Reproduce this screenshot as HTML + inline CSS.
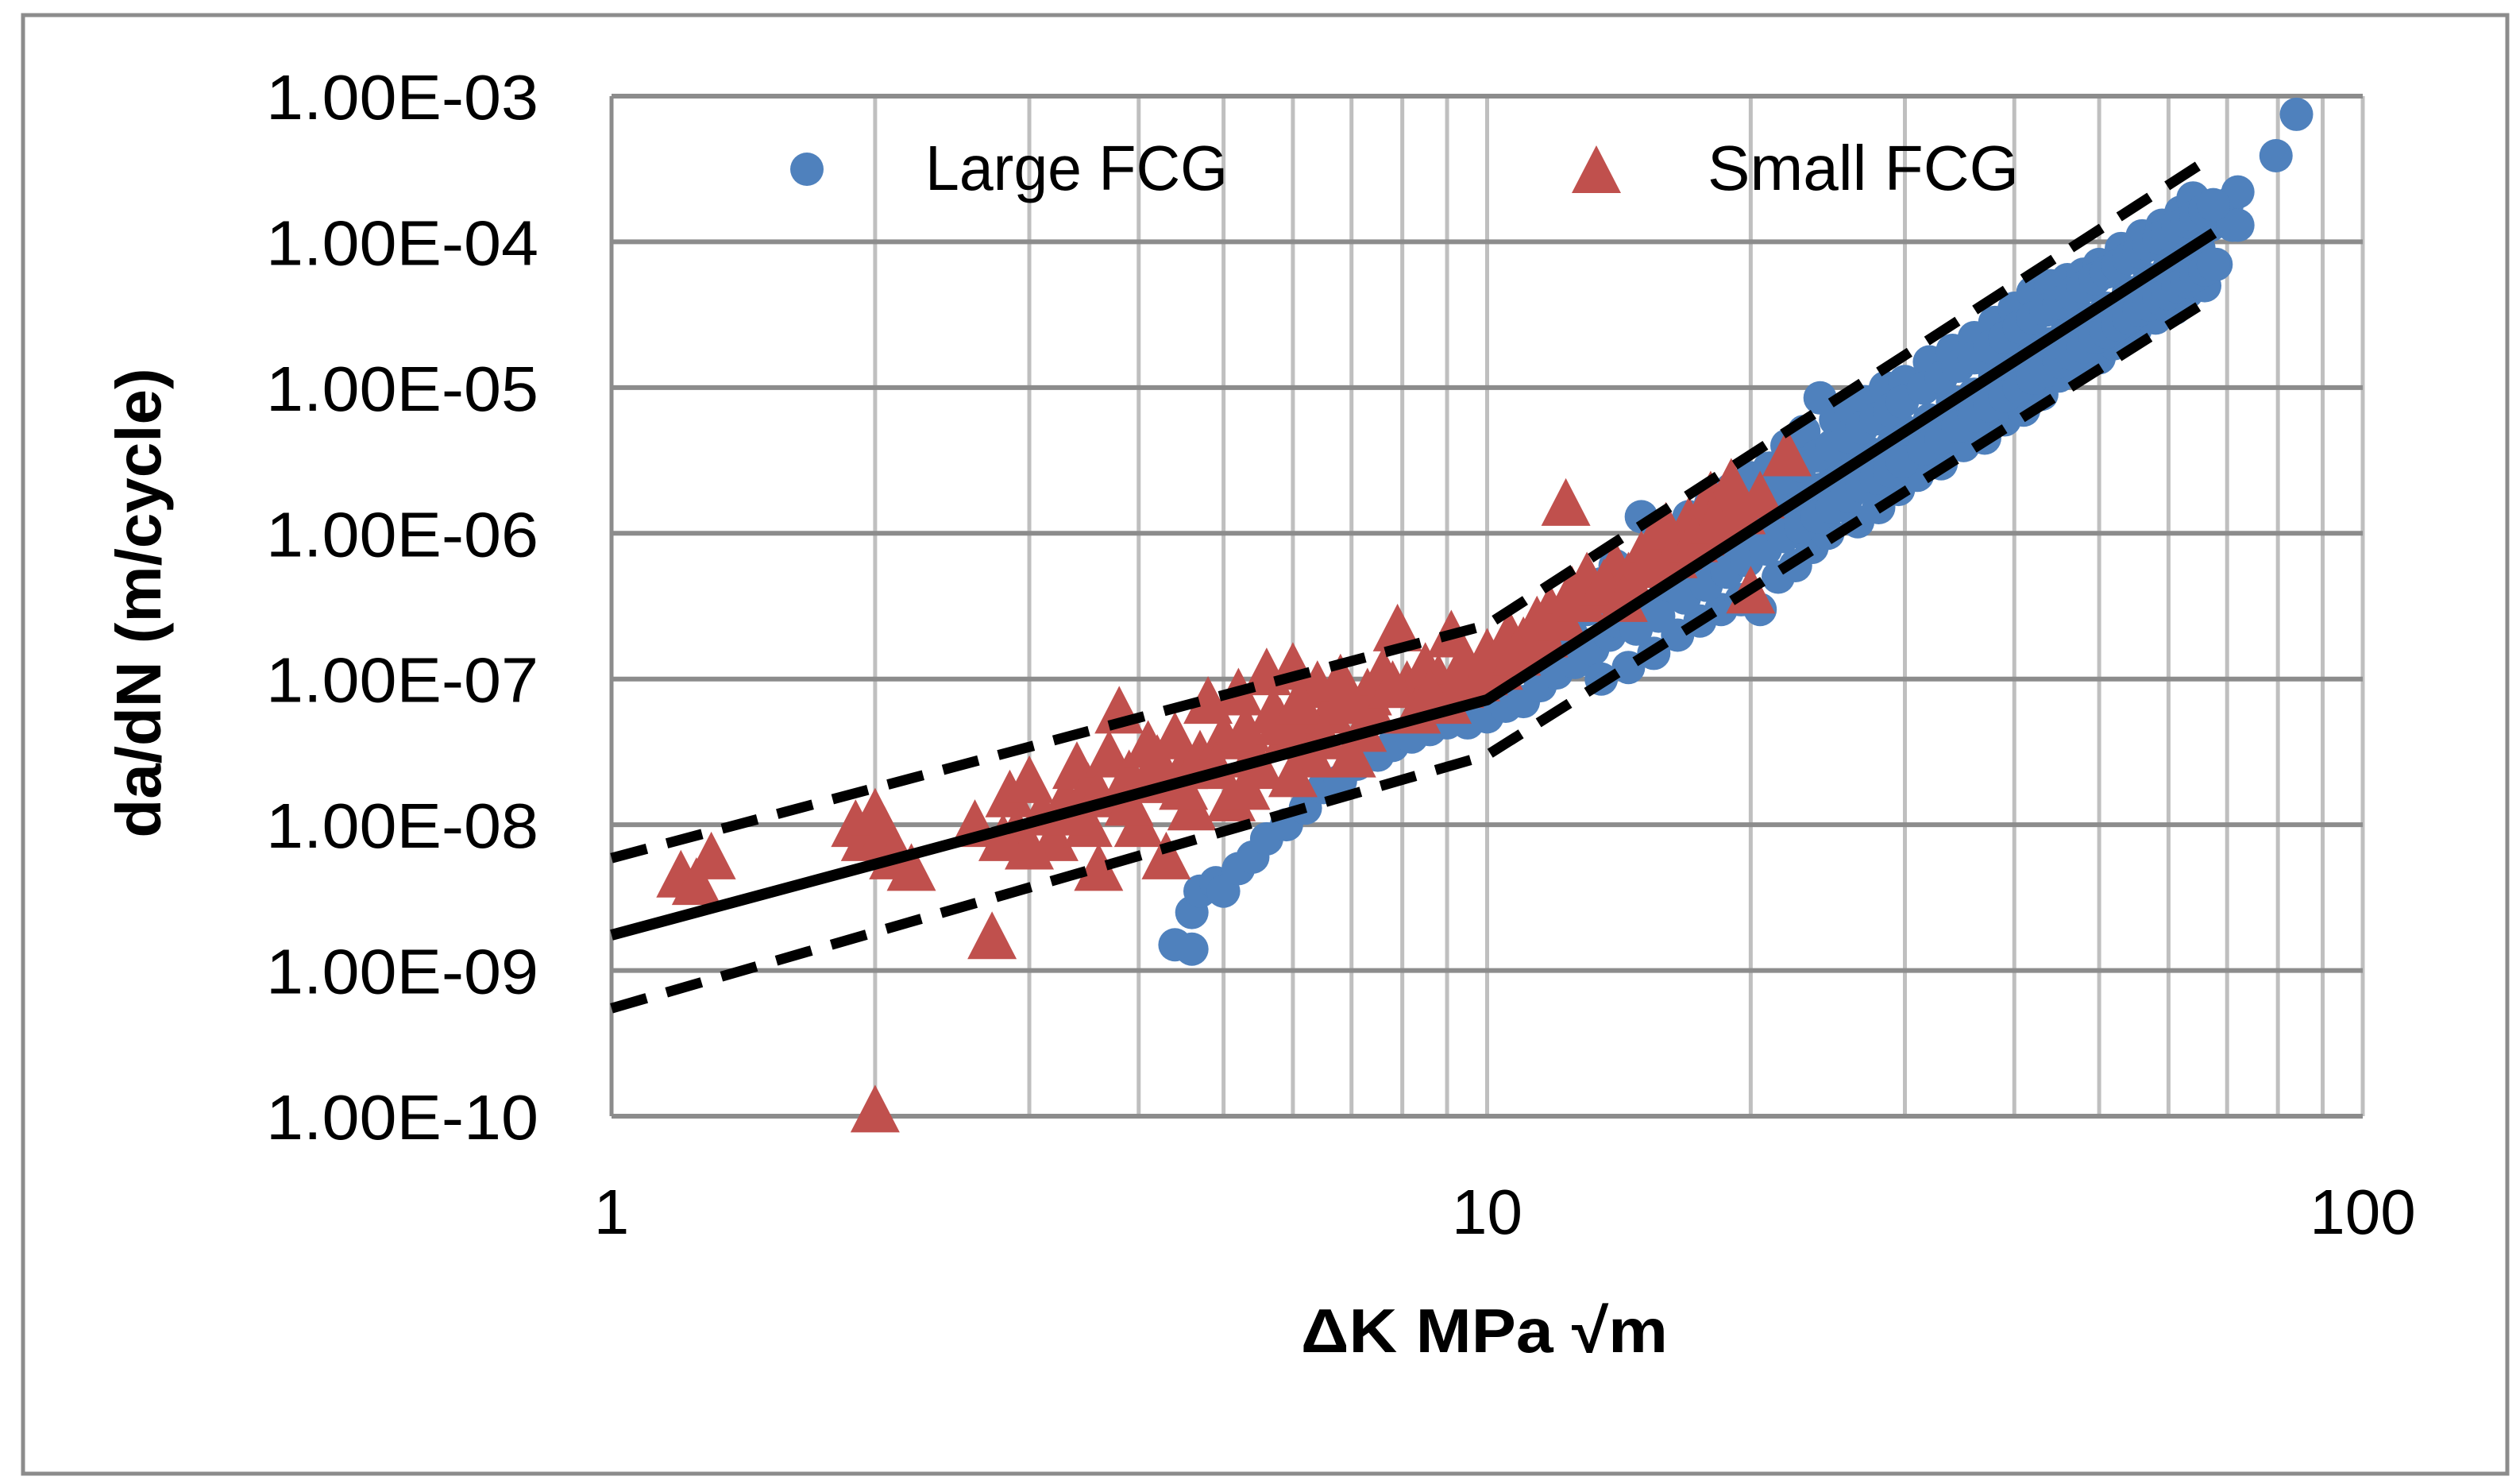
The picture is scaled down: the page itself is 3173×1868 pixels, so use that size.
<!DOCTYPE html>
<html><head><meta charset="utf-8"><style>
html,body{margin:0;padding:0;background:#fff;}
svg{display:block;}
text{font-family:"Liberation Sans",sans-serif;fill:#000;}
</style></head><body>
<svg id="chart" width="3173" height="1868" viewBox="0 0 3173 1868" xmlns="http://www.w3.org/2000/svg">
<rect x="29" y="19" width="3128" height="1836" fill="#fff" stroke="#8c8c8c" stroke-width="5"/>
<g id="grid"></g>
<g id="series"></g>
<g id="fits"></g>
<g id="axes"></g>
<text x="202" y="759" font-size="80" font-weight="bold" text-anchor="middle" transform="rotate(-90 202 759)">da/dN (m/cycle)</text>
<text x="1869" y="1702" font-size="78" font-weight="bold" text-anchor="middle" textLength="462" lengthAdjust="spacingAndGlyphs">ΔK MPa √m</text>
<g>
<circle cx="1016" cy="213" r="21" fill="#4f81bd"/>
<text x="1165" y="239" font-size="80" textLength="381" lengthAdjust="spacingAndGlyphs">Large FCG</text>
<polygon points="2010,183 2041,243 1979,243" fill="#c0504d"/>
<text x="2150" y="239" font-size="80" textLength="392" lengthAdjust="spacingAndGlyphs">Small FCG</text>
</g>
</svg>
<script>
const xTicks=[1,10,100];
const xTickLabels=["1","10","100"];
const yTicks=[1e-3,1e-4,1e-5,1e-6,1e-7,1e-8,1e-9,1e-10];
const yTickLabels=["1.00E-03","1.00E-04","1.00E-05","1.00E-06","1.00E-07","1.00E-08","1.00E-09","1.00E-10"];
const largeK=[4.4,4.6,4.6,4.7,4.9,5.0,5.2,5.4,5.6,5.9,6.2,6.5,6.8,7.1,7.5,7.8,8.2,8.6,9,9.5,10,10.5,11,11.5,12,12.6,13.2,13.8,12.5,13,13.5,13.5,
14,14,14.5,14.5,15,15,15.5,16,16,16.5,17,17,17.5,18,18,18.5,19,19,19.5,20,20,20.5,21,21,21.5,22,22,22.5,23,23,23.5,24,24,24.5,25,25,26,26,26.5,27,27.5,28,28.5,29,29.5,30,30,31,32,32,33,34,34,35,36,36,37,38,38,39,40,40,41,42,42,43,44,44,45,46,46,47,48,48,50,50,51,52,53,54,55,56,57,58,59,60,61,62,62,63,64,65,66,67,68,70,71,72,72,79.6,84,
14.8,14.8,15.7,15.7,16.8,16.8,17.8,17.8,18.8,18.8,19.8,19.8,20.8,20.8,21.8,21.8,22.8,22.8,23.8,23.8,24.8,24.8,25.8,25.8,26.8,26.8,27.8,27.8,28.8,28.8,29.8,29.8,31.5,31.5,33,33,34.5,34.5,36,36,37.5,37.5,39,39,40.5,40.5,42,42,43.5,43.5,45,45,46.5,46.5,48,48,49.5,49.5,51,51,52.5,52.5,54,54,55.5,55.5,57,57,58.5,58.5,60,60,61.5,61.5,63,63,64.5,64.5,66,66,67.5,67.5];
const largeRate=[1.5e-9,1.4e-9,2.5e-9,3.5e-9,4e-9,3.5e-9,5e-9,6e-9,8e-9,1e-8,1.3e-8,1.8e-8,2e-8,2.6e-8,3e-8,3.5e-8,4e-8,4.5e-8,5e-8,5e-8,5.5e-8,6.5e-8,7e-8,9e-8,1.1e-7,1.3e-7,1.6e-7,2e-7,2e-7,3e-7,4.5e-7,1e-7,
6e-7,2.5e-7,1.2e-7,4e-7,1.3e-6,3e-7,1.5e-7,1e-6,4e-7,2e-7,1.3e-6,5e-7,2.5e-7,1.6e-6,7e-7,3e-7,2e-6,9e-7,3.5e-7,2.4e-6,1e-6,3e-7,2.8e-6,1.2e-6,5e-7,4e-6,1.5e-6,6e-7,5e-6,1.8e-6,8e-7,8.5e-6,2e-6,1e-6,6e-6,2.5e-6,7e-6,3e-6,1.2e-6,8e-6,3.5e-6,1.5e-6,1e-5,4e-6,2e-6,1.1e-5,5e-6,2.5e-6,1.5e-5,6e-6,3e-6,1.8e-5,8e-6,4e-6,2.2e-5,9e-6,4.5e-6,2.8e-5,1.2e-5,6e-6,3.5e-5,1.4e-5,7e-6,4.5e-5,1.8e-5,9e-6,5e-5,2e-5,1.2e-5,5.5e-5,2.5e-5,1.4e-5,6e-5,3e-5,1.6e-5,7e-5,3.5e-5,2e-5,9e-5,4.5e-5,2.5e-5,1.1e-4,5.5e-5,3e-5,1.3e-4,6.5e-5,3.5e-5,1.6e-4,8e-5,4.5e-5,2e-4,9e-5,5e-5,1.3e-4,7e-5,1.8e-4,1.3e-4,2.2e-4,1.3e-4,3.9e-4,7.5e-4,
5.6e-7,2.2e-7,7e-7,2.7e-7,9.2e-7,3.6e-7,1.13e-6,4.4e-7,1.4e-6,5.4e-7,1.7e-6,6.5e-7,2e-6,7.8e-7,2.4e-6,9.5e-7,2.9e-6,1.1e-6,3.4e-6,1.3e-6,4e-6,1.5e-6,4.6e-6,1.8e-6,5.3e-6,2.1e-6,6.1e-6,2.4e-6,7e-6,2.7e-6,8e-6,3.1e-6,9.9e-6,3.8e-6,1.17e-5,4.5e-6,1.4e-5,5.4e-6,1.6e-5,6.4e-6,1.9e-5,7.5e-6,2.2e-5,8.7e-6,2.6e-5,1e-5,3e-5,1.16e-5,3.4e-5,1.3e-5,3.8e-5,1.5e-5,4.4e-5,1.7e-5,4.9e-5,1.9e-5,5.6e-5,2.2e-5,6.2e-5,2.4e-5,6.9e-5,2.7e-5,7.7e-5,3e-5,8.6e-5,3.4e-5,9.5e-5,3.7e-5,1.06e-4,4.1e-5,1.13e-4,4.4e-5,1.26e-4,4.9e-5,1.37e-4,5.3e-5,1.5e-4,5.9e-5,1.65e-4,6.4e-5,1.8e-4,7e-5];
const smallK=[1.2,1.25,1.3,1.9,1.95,2.0,2.05,2.1,2.2,2.0,2.72,2.6,2.85,3.0,2.9,3.1,3.2,3.3,3.4,3.5,3.6,3.7,3.8,3.9,4.0,4.1,4.2,4.3,4.4,4.5,4.7,4.8,5.0,5.1,5.2,5.4,5.6,5.7,5.9,6.0,6.2,6.4,6.6,6.8,7.0,7.3,7.6,7.9,8.1,8.5,8.8,9.1,9.4,9.7,10,10.3,10.6,11,11.4,11.8,12.3,12.5,13,13.5,14,14.5,15,15.5,16,16.5,17,17.5,18,18.5,19,20,20.5,22,5.5,6.3,7.2,8.3,9,4.6,3.5,
3.3,3.6,3.9,4.2,4.5,4.9,5.3,5.8,6.1,6.5,6.9,7.4,7.8,8.6,9.3,9.9,10.8,11.6,12.2,12.8,13.6,14.3,15.2,16.3,17.2,18.2,19.5,3.0,2.8,5.3,6.0,7.0];
const smallRate=[4.5e-9,4e-9,6e-9,1e-8,8e-9,1.2e-8,9e-9,6e-9,5e-9,1.1e-10,1.7e-9,1e-8,1.6e-8,2e-8,9e-9,1.2e-8,8e-9,1.5e-8,2.5e-8,1.8e-8,5e-9,3e-8,6e-8,2.2e-8,1e-8,3.5e-8,2e-8,6e-9,4e-8,2.5e-8,3e-8,7e-8,4e-8,1.5e-8,8e-8,3e-8,1.1e-7,6e-8,4e-8,1.2e-7,5e-8,9e-8,6e-8,1e-7,7e-8,8e-8,1.1e-7,2.2e-7,9e-8,1.2e-7,1e-7,2e-7,1.3e-7,1e-7,1.5e-7,1.2e-7,2e-7,1.8e-7,2.5e-7,3e-7,1.6e-6,4e-7,5e-7,4e-7,6e-7,5e-7,7e-7,9e-7,1.1e-6,8e-7,1.2e-6,1e-6,1.8e-6,1.5e-6,2.2e-6,4e-7,1.8e-6,3.5e-6,2.5e-8,3e-8,4.5e-8,6e-8,7e-8,1.3e-8,1e-8,
1.2e-8,1.6e-8,1.4e-8,2.8e-8,1.8e-8,2.5e-8,4.5e-8,5e-8,7e-8,4e-8,8e-8,6e-8,9e-8,8e-8,9e-8,1.1e-7,1.5e-7,2e-7,2.6e-7,3.5e-7,4.5e-7,3.5e-7,6e-7,7e-7,9e-7,1.2e-6,1.4e-6,7e-9,8e-9,1.8e-8,2.2e-8,3e-8];
const fitK=[1,10,67.6];
const fitMean=[1.75e-9,7.2e-8,1.15e-4];
const fitUpper=[5.9e-9,2.35e-7,3.9e-4];
const fitLower=[5.5e-10,3e-8,4.2e-5];

const NS="http://www.w3.org/2000/svg";
const PL=770,PR=2975,PT=121,PB=1405;
function xs(k){return PL+(Math.log10(k)-0)/2*(PR-PL);}
function ys(v){return PT+(-3-Math.log10(v))/7*(PB-PT);}
function mk(tag,attrs,parent){const e=document.createElementNS(NS,tag);for(const a in attrs)e.setAttribute(a,attrs[a]);parent.appendChild(e);return e;}
const grid=document.getElementById('grid'),series=document.getElementById('series'),fits=document.getElementById('fits'),axes=document.getElementById('axes');
for(let d=0;d<2;d++){for(let m=1;m<=10;m++){const k=m*Math.pow(10,d);if(k===1&&d===0)continue;const X=xs(k);
const l=mk('line',{x1:X,y1:PT,x2:X,y2:PB,stroke:'#bfbfbf','stroke-width':5},grid);

}}
yTicks.forEach((v,i)=>{const Y=ys(v);
const l=mk('line',{x1:PL,y1:Y,x2:PR,y2:Y,stroke:'#8c8c8c','stroke-width':6},grid);


const t=mk('text',{x:678,y:Y+29,'font-size':80,'text-anchor':'end',textLength:343,lengthAdjust:'spacingAndGlyphs'},axes);
t.textContent=yTickLabels[i];

});
const la=mk('line',{x1:PL,y1:PT,x2:PL,y2:PB,stroke:'#8c8c8c','stroke-width':5},grid);


xTicks.forEach((k,i)=>{const t=mk('text',{x:xs(k),y:1553,'font-size':80,'text-anchor':'middle'},axes);
t.textContent=xTickLabels[i];

});
const defs=mk('defs',{},document.getElementById('chart'));
const cp=mk('clipPath',{id:'pc'},defs);mk('rect',{x:PL,y:PT-30,width:PR-PL+40,height:PB-PT+60},cp);
series.setAttribute('clip-path','url(#pc)');
largeK.forEach((k,i)=>{const c=mk('circle',{cx:xs(k),cy:ys(largeRate[i]),r:21,fill:'#4f81bd'},series);

});
smallK.forEach((k,i)=>{const X=xs(k),Y=ys(smallRate[i]);
const p=mk('polygon',{points:`${X},${Y-32} ${X+31},${Y+28} ${X-31},${Y+28}`,fill:'#c0504d'},series);

});
function line(vals,dash,name){const pts=fitK.map((k,i)=>xs(k)+','+ys(vals[i])).join(' ');
const a={points:pts,fill:'none',stroke:'#000','stroke-width':dash?13:14,'stroke-linejoin':'round'};if(dash)a['stroke-dasharray']='46 26';
const p=mk('polyline',a,fits);

}
line(fitMean,false,'mean-fit-line');line(fitUpper,true,'upper-bound-line');line(fitLower,true,'lower-bound-line');
</script>
</body></html>
